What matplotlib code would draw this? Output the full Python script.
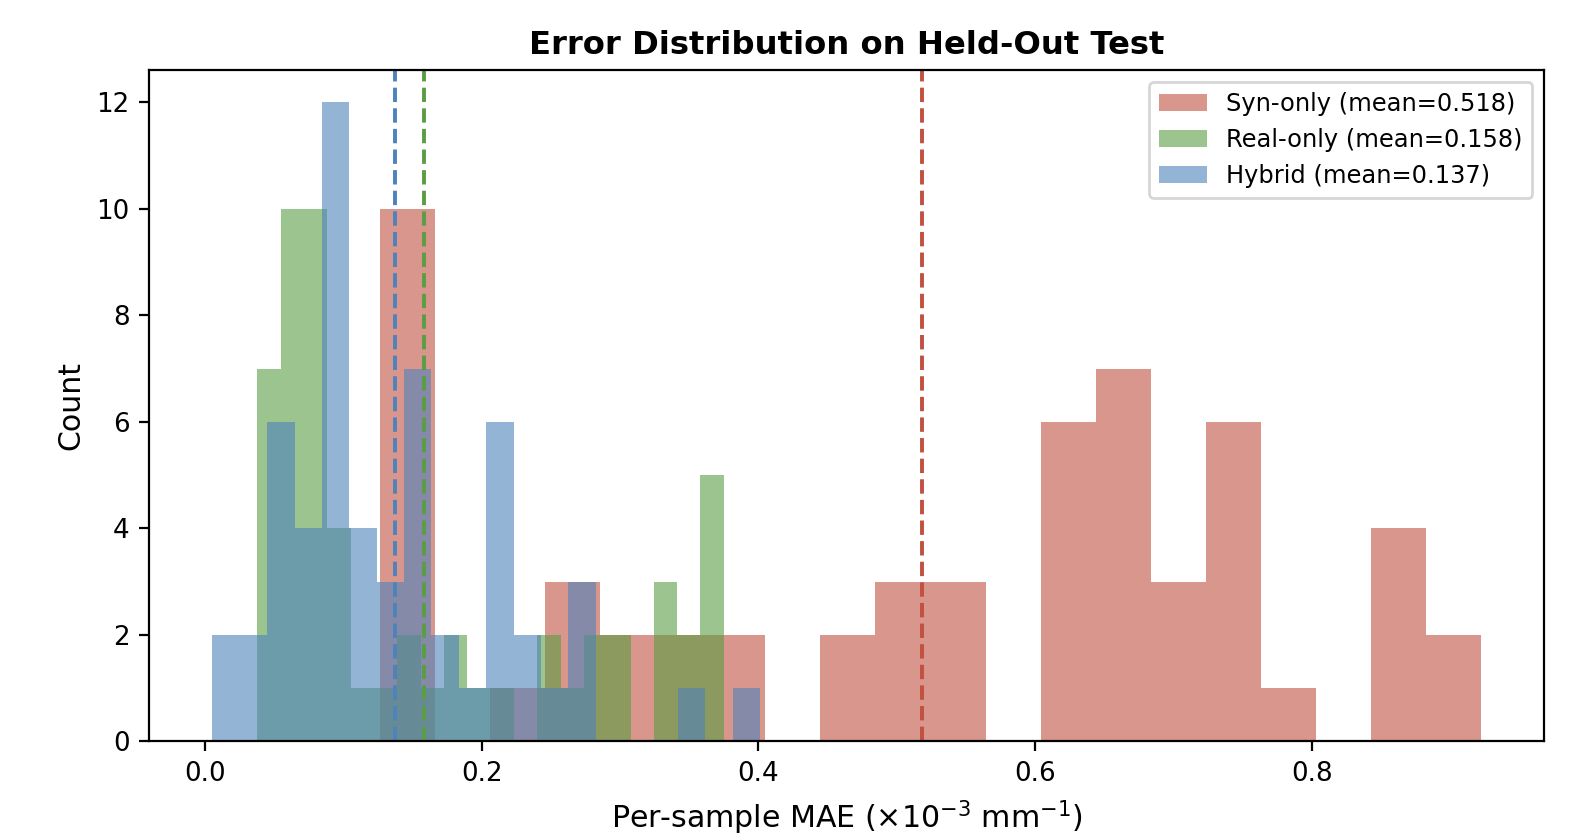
import numpy as np
import matplotlib
matplotlib.use('Agg')
import matplotlib.pyplot as plt

# bin counts (20 bins per model, each on its own range)
syn_counts = [10, 0, 1, 3, 2, 2, 2, 0, 2, 3, 3, 0, 6, 7, 3, 6, 1, 0, 4, 2]
real_counts = [7, 10, 10, 4, 1, 1, 2, 1, 2, 1, 1, 0, 2, 1, 2, 2, 0, 3, 2, 5]
hybrid_counts = [2, 2, 6, 4, 12, 4, 3, 7, 2, 1, 6, 2, 1, 3, 0, 0, 0, 1, 0, 1]

syn_range = (0.1264, 0.9224)
real_range = (0.0378, 0.3750)
hybrid_range = (0.0053, 0.4013)

syn_mean = 0.518
real_mean = 0.158
hybrid_mean = 0.137

c_syn = '#c0503f'
c_real = '#5a9d44'
c_hybrid = '#4d82bc'

fig, ax = plt.subplots(figsize=(7.88, 4.19), dpi=200)

def draw_hist(counts, rng, color, label):
    edges = np.linspace(rng[0], rng[1], len(counts) + 1)
    ax.hist(edges[:-1], bins=edges, weights=counts, color=color, alpha=0.6, label=label)

draw_hist(syn_counts, syn_range, c_syn, f'Syn-only (mean={syn_mean:.3f})')
draw_hist(real_counts, real_range, c_real, f'Real-only (mean={real_mean:.3f})')
draw_hist(hybrid_counts, hybrid_range, c_hybrid, f'Hybrid (mean={hybrid_mean:.3f})')

# mean markers
ax.axvline(syn_mean, color=c_syn, linestyle='--', linewidth=1.4)
ax.axvline(real_mean, color=c_real, linestyle='--', linewidth=1.4)
ax.axvline(hybrid_mean, color=c_hybrid, linestyle='--', linewidth=1.4)

ax.set_title('Error Distribution on Held-Out Test', fontsize=11.6, fontweight='bold')
ax.set_xlabel(r'Per-sample MAE ($\times10^{-3}$ mm$^{-1}$)', fontsize=10.8)
ax.set_ylabel('Count', fontsize=10.8)
ax.tick_params(labelsize=9.4)
ax.legend(fontsize=8.7, loc='upper right')

plt.subplots_adjust(left=0.0945, right=0.980, bottom=0.1152, top=0.916)
plt.savefig('out.png', dpi=200)
